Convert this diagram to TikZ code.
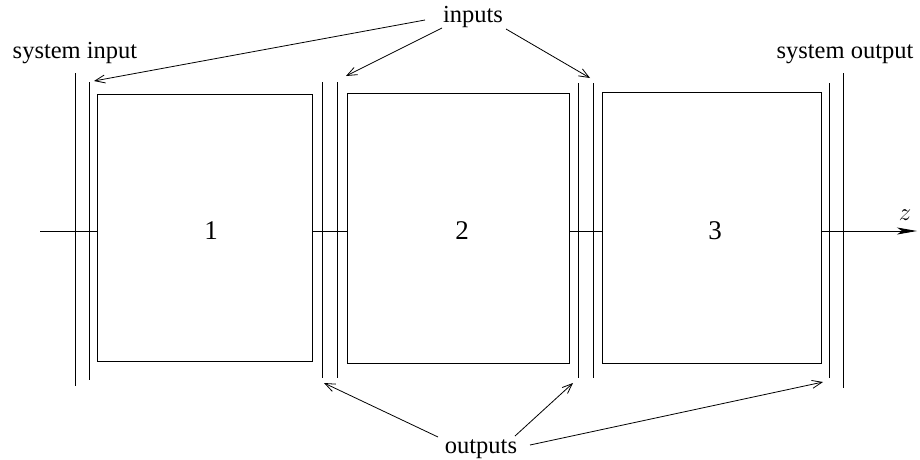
\documentclass[tikz,border=0pt]{standalone}
\usepackage{fontspec}
\setmainfont{Liberation Serif}
\usetikzlibrary{arrows.meta}
\begin{document}
\begin{tikzpicture}[x=1pt,y=-1pt,line width=0.9pt,
  lbl/.style={font=\fontsize{24.5}{28}\selectfont,inner sep=0pt,anchor=base},
  num/.style={font=\fontsize{27}{30}\selectfont,inner sep=0pt,anchor=base},
  block/.style={draw,inner sep=0pt,fill=white},
  pointer/.style={-{Straight Barb[length=10pt,width=8pt,line width=0.8pt]},line width=0.8pt},
  plate/.style={line width=0.9pt}]
\useasboundingbox (0,0) rectangle (920,459);

% interface plates
\draw[plate] (75,73) -- (75,386);
\draw[plate] (89,82) -- (89,380);
\draw[plate] (322,82) -- (322,378);
\draw[plate] (337,82) -- (337,378);
\draw[plate] (578,83) -- (578,378);
\draw[plate] (593,83) -- (593,378);
\draw[plate] (829,83) -- (829,378);
\draw[plate] (843,73) -- (843,388);

% z axis
\coordinate (zstart) at (40,231);
\coordinate (zend) at (917,231);

% blocks
\node[block,minimum width=215pt,minimum height=267pt] (b1) at (204.5,227.5) {};
\node[block,minimum width=222pt,minimum height=270pt] (b2) at (458,228) {};
\node[block,minimum width=219pt,minimum height=271pt] (b3) at (711.5,227.5) {};

\draw (zstart) -- (b1.west |- zstart);
\draw (b1.east |- zstart) -- (b2.west |- zstart);
\draw (b2.east |- zstart) -- (b3.west |- zstart);
\draw[-{Stealth[length=20pt,width=7pt,inset=5pt]}] (b3.east |- zstart) -- (zend);
\node[lbl] (zl) at (905,220) {$z$};

\node[num] (n1) at (211,239) {1};
\node[num] (n2) at (462,239) {2};
\node[num] (n3) at (715,239) {3};

% labels
\node[lbl] (sysin) at (75,58) {system input};
\node[lbl] (sysout) at (845,58) {system output};
\node[lbl] (inp) at (473,22) {inputs};
\node[lbl] (outp) at (481,453) {outputs};

% pointer ends
\coordinate (ia) at (425,20);
\coordinate (ib) at (442,28);
\coordinate (ic) at (506,29);
\coordinate (ta) at (94,81);
\coordinate (tb) at (346,76);
\coordinate (tc) at (590,78);
\coordinate (oa) at (438,437);
\coordinate (ob) at (515,436);
\coordinate (oc) at (530,445);
\coordinate (sa) at (324,383);
\coordinate (sb) at (573,383);
\coordinate (sc) at (823,382);

\draw[pointer] (ia) -- (ta);
\draw[pointer] (ib) -- (tb);
\draw[pointer] (ic) -- (tc);
\draw[pointer] (oa) -- (sa);
\draw[pointer] (ob) -- (sb);
\draw[pointer] (oc) -- (sc);
\end{tikzpicture}
\end{document}
